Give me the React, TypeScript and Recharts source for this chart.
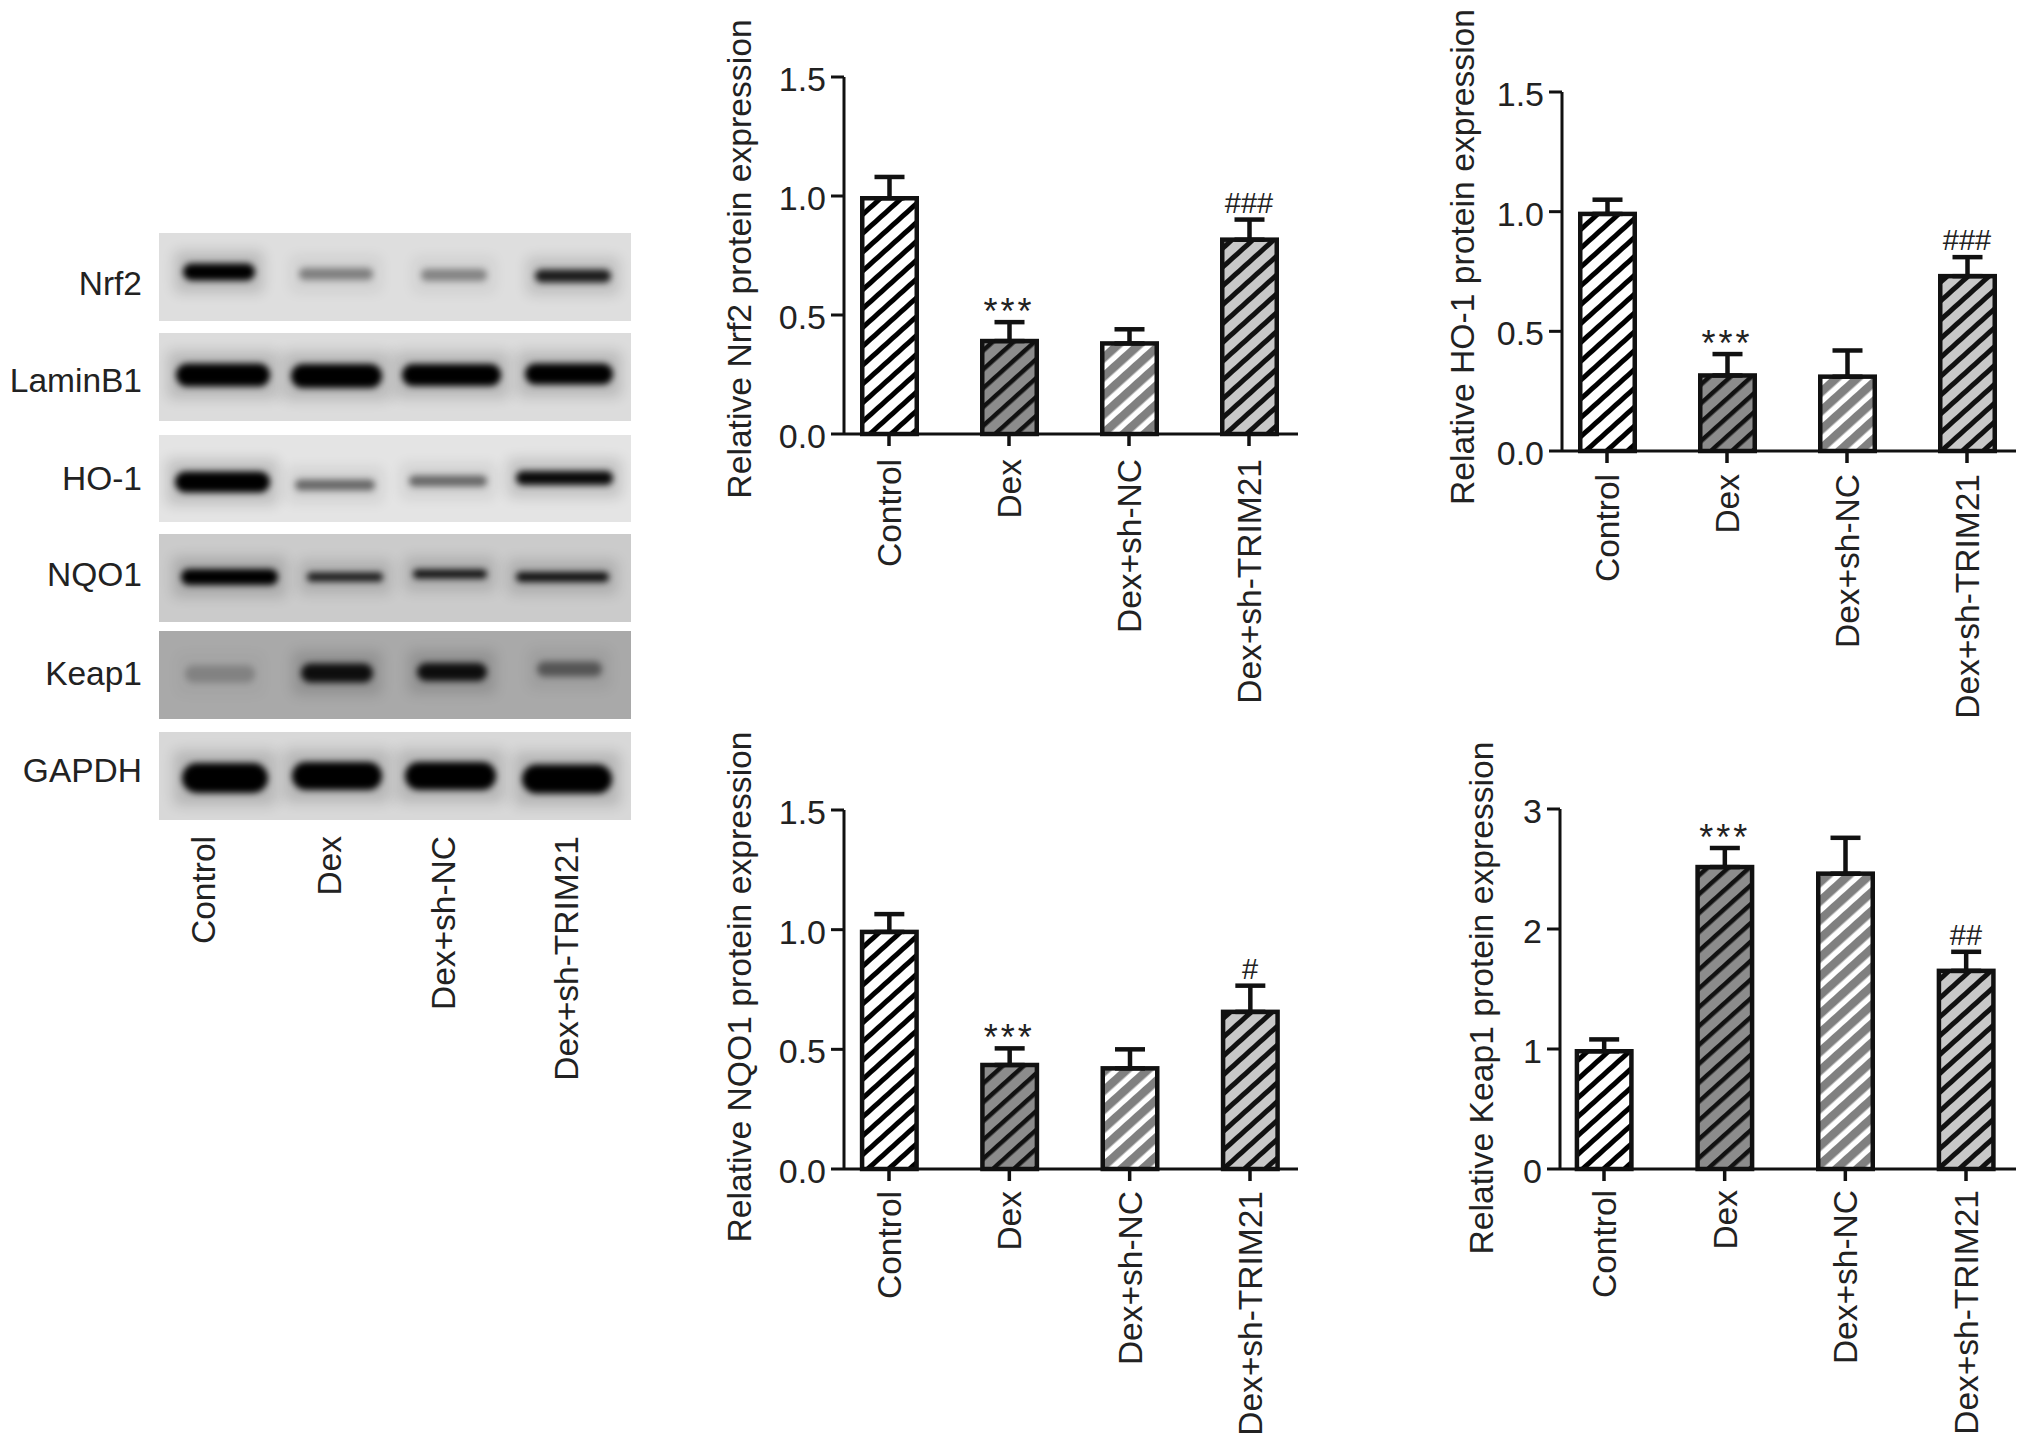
import React from "react";
import {
  ComposedChart,
  Bar,
  Line,
  XAxis,
  YAxis,
  ErrorBar,
  Label,
  LabelList,
} from "recharts";

const FONT = '"Liberation Sans", Arial, sans-serif';
const INK = "#222";

const categories = ["Control", "Dex", "Dex+sh-NC", "Dex+sh-TRIM21"];

const nrf2Values = [1.0, 0.4, 0.39, 0.826];
const nrf2Errors = [0.08, 0.07, 0.05, 0.075];
const nrf2Marks = ["", "***", "", "###"];

const ho1Values = [1.0, 0.325, 0.32, 0.74];
const ho1Errors = [0.05, 0.08, 0.1, 0.07];
const ho1Marks = ["", "***", "", "###"];

const nqo1Values = [1.0, 0.444, 0.43, 0.666];
const nqo1Errors = [0.065, 0.06, 0.07, 0.1];
const nqo1Marks = ["", "***", "", "#"];

const keap1Values = [1.0, 2.535, 2.48, 1.67];
const keap1Errors = [0.08, 0.14, 0.28, 0.14];
const keap1Marks = ["", "***", "", "##"];

const fractionTicks = [0, 0.5, 1, 1.5];
const keapTicks = [0, 1, 2, 3];

const hatchIds = ["hatch-control", "hatch-dex", "hatch-nc", "hatch-trim"];

// the lower whisker is only there to tuck the cap into the bar outline
const buildRows = (values: number[], errors: number[], marks: string[], max: number) =>
  categories.map((name, i) => ({
    name,
    value: values[i],
    err: [max / 158, errors[i]],
    top: values[i] + errors[i],
    mark: marks[i],
  }));

const panels = [
  {
    title: "Relative Nrf2 protein expression",
    rows: buildRows(nrf2Values, nrf2Errors, nrf2Marks, 1.5),
    ticks: fractionTicks,
    axisX: 844,
    right: 1298,
    top: 77,
    bottom: 434,
    padLeft: 45,
    padRight: 49,
    labelX: 739,
    labelY: 259,
    tickGap: 11,
  },
  {
    title: "Relative HO-1 protein expression",
    rows: buildRows(ho1Values, ho1Errors, ho1Marks, 1.5),
    ticks: fractionTicks,
    axisX: 1562,
    right: 2016,
    top: 92,
    bottom: 451,
    padLeft: 45,
    padRight: 49,
    labelX: 1462,
    labelY: 257,
    tickGap: 9,
  },
  {
    title: "Relative NQO1 protein expression",
    rows: buildRows(nqo1Values, nqo1Errors, nqo1Marks, 1.5),
    ticks: fractionTicks,
    axisX: 844,
    right: 1298,
    top: 810,
    bottom: 1169,
    padLeft: 45,
    padRight: 48,
    labelX: 739,
    labelY: 987,
    tickGap: 8,
  },
  {
    title: "Relative Keap1 protein expression",
    rows: buildRows(keap1Values, keap1Errors, keap1Marks, 3),
    ticks: keapTicks,
    axisX: 1560,
    right: 2016,
    top: 809,
    bottom: 1169,
    padLeft: 44,
    padRight: 50,
    labelX: 1481,
    labelY: 998,
    tickGap: 7,
  },
];

// western blot, bands given as [from, to, centre, height, darkness] in page px
const blotLabels = ["Nrf2", "LaminB1", "HO-1", "NQO1", "Keap1", "GAPDH"];
const blotRows = [
  {
    y: 233, h: 88, bg: "#dedede", labelY: 283,
    bands: [
      [183, 255, 272, 17, 1],
      [299, 373, 274, 12, 0.38],
      [421, 487, 275, 12, 0.36],
      [535, 611, 276, 13, 0.85],
    ],
  },
  {
    y: 333, h: 88, bg: "#dcdcdc", labelY: 380,
    bands: [
      [176, 270, 375, 23, 1],
      [291, 382, 376, 24, 1],
      [402, 501, 375, 22, 1],
      [525, 613, 374, 21, 1],
    ],
  },
  {
    y: 435, h: 87, bg: "#e4e4e4", labelY: 478,
    bands: [
      [175, 270, 482, 21, 1],
      [295, 375, 485, 11, 0.5],
      [409, 487, 481, 11, 0.5],
      [516, 613, 478, 14, 0.95],
    ],
  },
  {
    y: 534, h: 88, bg: "#cbcbcb", labelY: 574,
    bands: [
      [181, 278, 577, 16, 1],
      [307, 383, 577, 9, 0.85],
      [413, 487, 574, 9, 0.9],
      [516, 609, 577, 10, 0.9],
    ],
  },
  {
    y: 631, h: 88, bg: "#a9a9a9", labelY: 673,
    bands: [
      [185, 255, 674, 17, 0.2],
      [301, 373, 673, 19, 0.9],
      [417, 487, 672, 18, 0.9],
      [537, 602, 669, 15, 0.45],
    ],
  },
  {
    y: 732, h: 88, bg: "#d8d8d8", labelY: 770,
    bands: [
      [182, 268, 778, 30, 1],
      [292, 382, 776, 28, 1],
      [405, 496, 776, 28, 1],
      [522, 612, 779, 29, 1],
    ],
  },
];
const blotLaneX = [203, 329, 443, 566];

const Blot = () => (
  <g>
    {blotRows.map((row, r) => (
      <g key={blotLabels[r]}>
        <rect x={159} y={row.y} width={472} height={row.h} fill={row.bg} />
        <g clipPath={`url(#blot-clip-${r})`}>
          {row.bands.map((b, i) => (
            <rect
              key={`halo-${i}`}
              x={b[0] - 8}
              y={b[2] - b[3] / 2 - 12}
              width={b[1] - b[0] + 16}
              height={b[3] + 24}
              fill="#000"
              opacity={0.16 * b[4]}
              filter="url(#blot-wide)"
            />
          ))}
          {row.bands.map((b, i) => (
            <rect
              key={`band-${i}`}
              x={b[0]}
              y={b[2] - b[3] / 2}
              width={b[1] - b[0]}
              height={b[3]}
              rx={b[3] / 2}
              fill="#000"
              opacity={b[4]}
              filter="url(#blot-soft)"
            />
          ))}
        </g>
        <text
          x={142}
          y={row.labelY}
          dy="0.36em"
          textAnchor="end"
          fontFamily={FONT}
          fontSize={33.5}
          fill={INK}
        >
          {blotLabels[r]}
        </text>
      </g>
    ))}
    {categories.map((name, i) => (
      <text
        key={name}
        transform={`rotate(-90 ${blotLaneX[i]} 836)`}
        x={blotLaneX[i]}
        y={836}
        dy="0.36em"
        textAnchor="end"
        fontFamily={FONT}
        fontSize={33.5}
        fill={INK}
      >
        {name}
      </text>
    ))}
  </g>
);

const SharedDefs = () => (
  <svg width={0} height={0} style={{ position: "absolute" }}>
    <defs>
      {[
        ["hatch-control", "#ffffff", "#000000", 5],
        ["hatch-dex", "#8c8c8c", "#111111", 4.5],
        ["hatch-nc", "#ffffff", "#808080", 8.5],
        ["hatch-trim", "#c8c8c8", "#111111", 5],
      ].map(([id, bg, stripe, thick]) => (
        <pattern
          key={id as string}
          id={id as string}
          width={14}
          height={14}
          patternUnits="userSpaceOnUse"
          patternTransform="rotate(48)"
        >
          <rect width={14} height={14} fill={bg as string} />
          <rect width={thick as number} height={14} fill={stripe as string} />
        </pattern>
      ))}
    </defs>
  </svg>
);

const XTick = ({ x, y, payload, gap }: any) => (
  <text
    transform={`rotate(-90 ${x} ${y + gap})`}
    x={x}
    y={y + gap}
    dy="0.36em"
    textAnchor="end"
    fontFamily={FONT}
    fontSize={33.5}
    fill={INK}
  >
    {payload.value}
  </text>
);

const MarkLabel = ({ x, y, value }: any) => {
  if (!value) return null;
  const isStar = String(value).startsWith("*");
  return (
    <text
      x={x}
      y={isStar ? y + 2 : y - 7}
      textAnchor="middle"
      fontFamily={FONT}
      fontSize={isStar ? 36 : 29}
      letterSpacing={isStar ? 3 : 0}
      fill={INK}
    >
      {value}
    </text>
  );
};

// outer edge of the outline sits on the value, as in the original
const HatchedBar = ({ x, y, width, height, index }: any) => (
  <rect
    x={x + 2.25}
    y={y + 2.25}
    width={width - 4.5}
    height={height - 2.25}
    fill={`url(#${hatchIds[index]})`}
    stroke="#111"
    strokeWidth={4.5}
  />
);

const Panel = ({ panel }: { panel: (typeof panels)[number] }) => {
  const extraTop = 90;
  const extraBottom = 300;
  const axisWidth = 130;
  const left = panel.axisX - axisWidth;
  const chartTop = panel.top - extraTop;
  const width = panel.right - left;
  const height = panel.bottom - panel.top + extraTop + extraBottom;
  const isKeap = panel.ticks === keapTicks;

  return (
    <div style={{ position: "absolute", left, top: chartTop }}>
      <ComposedChart
        width={width}
        height={height}
        data={panel.rows}
        margin={{ top: extraTop, right: 0, bottom: 0, left: 0 }}
      >
        <XAxis
          dataKey="name"
          scale="point"
          interval={0}
          height={extraBottom}
          padding={{ left: panel.padLeft, right: panel.padRight }}
          tick={<XTick gap={panel.tickGap} />}
          tickSize={12}
          axisLine={{ stroke: "#111", strokeWidth: 3 }}
          tickLine={{ stroke: "#111", strokeWidth: 3.5 }}
        />
        <YAxis
          width={axisWidth}
          domain={[0, isKeap ? 3 : 1.5]}
          ticks={panel.ticks}
          tickFormatter={(v: number) => (isKeap ? String(v) : v.toFixed(1))}
          tick={{ fontSize: 34, fontFamily: FONT, fill: INK, dy: 2 }}
          tickSize={13}
          tickMargin={5}
          axisLine={{ stroke: "#111", strokeWidth: 3 }}
          tickLine={{ stroke: "#111", strokeWidth: 3 }}
        >
          <Label
            content={() => (
              <text
                transform={`rotate(-90 ${panel.labelX - left} ${panel.labelY - chartTop})`}
                x={panel.labelX - left}
                y={panel.labelY - chartTop}
                dy="0.36em"
                textAnchor="middle"
                fontFamily={FONT}
                fontSize={33.7}
                fill={INK}
              >
                {panel.title}
              </text>
            )}
          />
        </YAxis>
        <Bar
          dataKey="value"
          barSize={59}
          shape={<HatchedBar />}
          isAnimationActive={false}
        >
          <ErrorBar
            dataKey="err"
            direction="y"
            width={15}
            stroke="#111"
            strokeWidth={4.5}
            isAnimationActive={false}
          />
        </Bar>
        <Line
          dataKey="top"
          stroke="none"
          dot={false}
          activeDot={false}
          legendType="none"
          isAnimationActive={false}
        >
          <LabelList dataKey="mark" content={<MarkLabel />} />
        </Line>
      </ComposedChart>
    </div>
  );
};

export default function App() {
  return (
    <div
      style={{
        position: "absolute",
        left: 0,
        top: 0,
        width: 2032,
        height: 1445,
        background: "#fff",
        overflow: "hidden",
      }}
    >
      <SharedDefs />
      <svg width={700} height={1100} style={{ position: "absolute", left: 0, top: 0 }}>
        <defs>
          <filter id="blot-soft" x="-20%" y="-100%" width="140%" height="300%">
            <feGaussianBlur stdDeviation="3.4" />
          </filter>
          <filter id="blot-wide" x="-30%" y="-100%" width="160%" height="300%">
            <feGaussianBlur stdDeviation="7" />
          </filter>
          {blotRows.map((row, r) => (
            <clipPath key={r} id={`blot-clip-${r}`}>
              <rect x={159} y={row.y} width={472} height={row.h} />
            </clipPath>
          ))}
        </defs>
        <Blot />
      </svg>
      {panels.map((panel) => (
        <Panel key={panel.title} panel={panel} />
      ))}
    </div>
  );
}
